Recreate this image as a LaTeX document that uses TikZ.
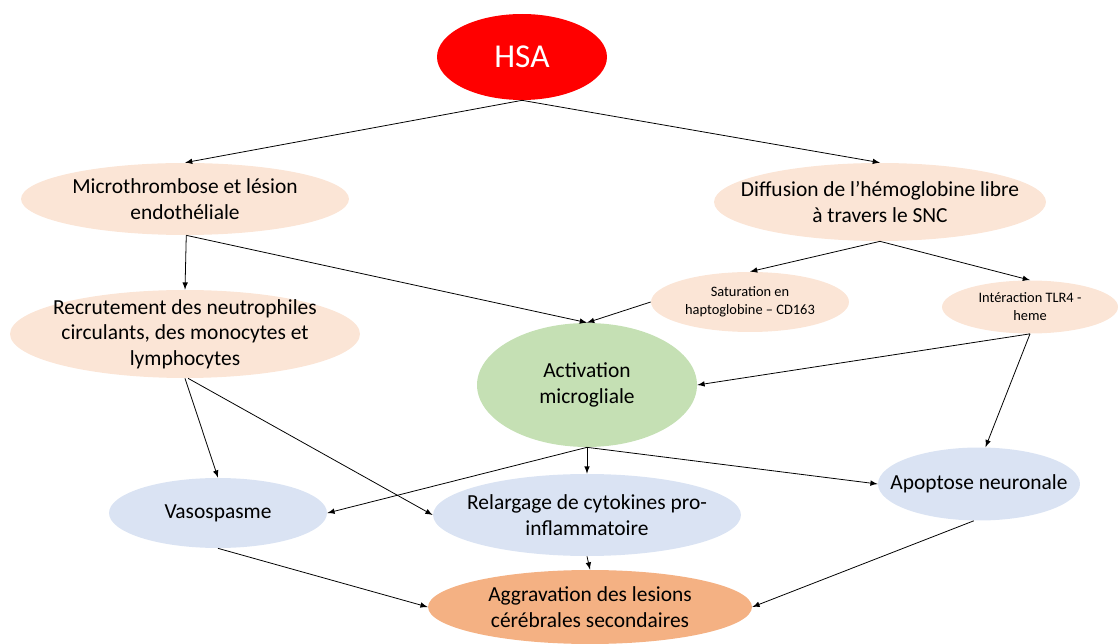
\documentclass[tikz,border=0pt]{standalone}
\usepackage{fontspec}
\setmainfont{Carlito}
\usetikzlibrary{shapes.geometric, arrows}
\definecolor{hsared}{HTML}{FF0000}
\definecolor{peach}{HTML}{FBE5D6}
\definecolor{leaf}{HTML}{C5E0B4}
\definecolor{sky}{HTML}{DAE3F3}
\definecolor{apricot}{HTML}{F4B183}

\begin{document}
\begin{tikzpicture}[x=0.02cm, y=-0.02cm,
  bulle/.style={ellipse, inner sep=-1.5cm, align=center, font=\fontsize{12.2}{14.5}\selectfont},
  petite/.style={bulle, font=\fontsize{8.2}{10.2}\selectfont},
  fleche/.style={-latex, line width=0.45pt}]
\useasboundingbox (0,0) rectangle (1118,644);

\node[bulle, fill=hsared, text=white, minimum width=3.4cm, minimum height=1.72cm, font=\fontsize{19}{22}\selectfont] (hsa) at (522,57) {HSA};

\node[bulle, fill=peach, minimum width=6.56cm, minimum height=1.44cm] (micro) at (185,199) {Microthrombose et lésion\\endothéliale};
\node[bulle, fill=peach, minimum width=6.64cm, minimum height=1.56cm] (diffu) at (880,202) {Diffusion de l’hémoglobine libre\\à travers le SNC};

\node[petite, fill=peach, minimum width=3.96cm, minimum height=1.2cm] (satur) at (750,302) {Saturation en\\haptoglobine – CD163};
\node[petite, fill=peach, minimum width=3.52cm, minimum height=1.06cm] (inter) at (1030,307) {Intéraction TLR4 -\\heme};

\node[bulle, fill=peach, minimum width=7cm, minimum height=1.76cm] (recru) at (185,334) {Recrutement des neutrophiles\\circulants, des monocytes et\\lymphocytes};
\node[bulle, fill=leaf, minimum width=4.4cm, minimum height=2.48cm] (activ) at (587,385) {Activation\\microgliale};

\node[bulle, fill=sky, minimum width=4.36cm, minimum height=1.4cm] (vaso) at (218,513) {Vasospasme};
\node[bulle, fill=sky, minimum width=6.16cm, minimum height=1.64cm] (relarg) at (587,515) {Relargage de cytokines pro-\\inflammatoire};
\node[bulle, fill=sky, minimum width=4.04cm, minimum height=1.46cm] (apop) at (979,484) {Apoptose neuronale};

\node[bulle, fill=apricot, minimum width=6.48cm, minimum height=1.48cm] (aggra) at (590,607) {Aggravation des lesions\\cérébrales secondaires};

% liens
\draw[fleche] (hsa.south) -- (micro.north);
\draw[fleche] (hsa.south) -- (diffu.north);
\draw[fleche] (micro.-88) -- (recru.north);
\draw[fleche] (micro.-88) -- (activ.north);
\draw[fleche] (diffu.south) -- (satur.north);
\draw[fleche] (diffu.south) -- (inter.north);
\draw[fleche] (satur.west) -- (activ.north);
\draw[fleche] (inter.south) -- (activ.east);
\draw[fleche] (inter.south) -- (apop.80);
\draw[fleche] (recru.south) -- (vaso.north);
\draw[fleche] (recru.-86) -- (relarg.west);
\draw[fleche] (activ.south) -- (vaso.east);
\draw[fleche] (activ.south) -- (relarg.north);
\draw[fleche] (activ.south) -- (apop.west);
\draw[fleche] (vaso.south) -- (aggra.west);
\draw[fleche] (relarg.south) -- (aggra.north);
\draw[fleche] (apop.-98) -- (aggra.east);

\end{tikzpicture}
\end{document}
